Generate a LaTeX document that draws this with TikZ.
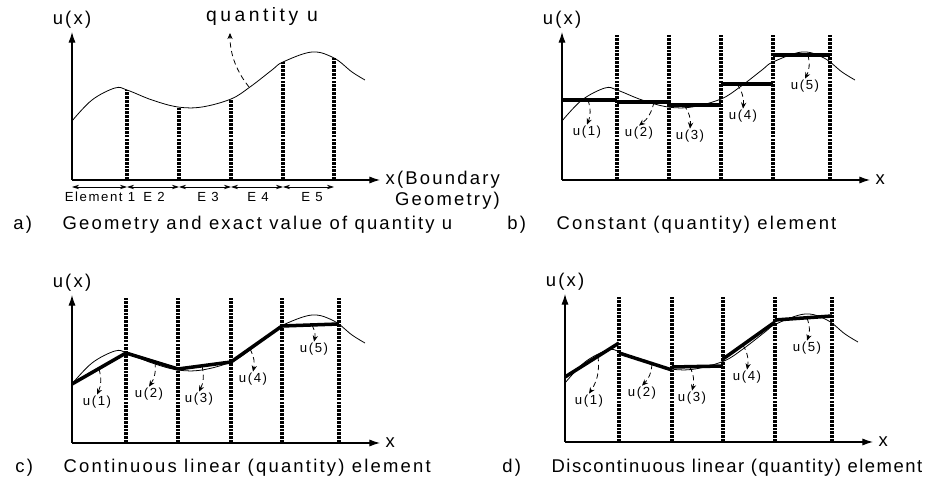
\documentclass[tikz,border=0pt]{standalone}
\usepackage{fontspec}
\setmainfont{Liberation Sans}
\newfontfamily\spaced[LetterSpace=12]{Liberation Sans}
\newfontfamily\tightspaced[LetterSpace=8]{Liberation Sans}
\newfontfamily\widespaced[LetterSpace=18]{Liberation Sans}
\usetikzlibrary{arrows.meta,positioning}

\begin{document}
\begin{tikzpicture}[x=0.02cm, y=0.02cm,
  axis/.style={line width=0.6pt, -{Latex[length=6pt,width=4pt]}},
  bound/.style={line width=2pt, dash pattern=on 1.6pt off 0.6pt},
  exact/.style={line width=0.45pt},
  approx/.style={line width=2pt, line join=round},
  span/.style={line width=0.4pt, {Stealth[length=4pt,width=2.5pt]}-{Stealth[length=4pt,width=2.5pt]}},
  tagarr/.style={densely dashed, line width=0.45pt, -{Stealth[length=3.5pt,width=3pt]}},
  lab/.style={font=\spaced\fontsize{10.5}{11.5}\selectfont, inner sep=1pt},
  tag/.style={font=\spaced\fontsize{7.5}{8}\selectfont, inner sep=0.5pt},
  elab/.style={font=\spaced\fontsize{7.5}{8}\selectfont, inner sep=1pt},
  capt/.style={font=\spaced\fontsize{10.5}{12}\selectfont, inner sep=0pt, anchor=west},
  exactu/.pic={\draw[exact] plot[smooth, tension=0.6] coordinates {(0,59) (20,80) (43,92) (55,90) (80,80) (106,73) (130,73) (159,81) (178,93) (200,110) (211,118) (240,128) (262,122) (280,108) (293,100)};}
]
  \useasboundingbox (0,0) rectangle (944,490);

  % a) geometry and exact value
  \begin{scope}[shift={(72,310)}]
    \coordinate (a-o) at (0,0);
    \coordinate (a-ytop) at (0,148);
    \coordinate (a-xend) at (308,0);
    \pic {exactu};
    \foreach \bx/\by in {55/90,107/73,159/81,211/118,262/122}
      \draw[bound] (\bx,0) -- (\bx,\by);
    \draw[axis] (a-o) -- (a-ytop);
    \draw[axis] (a-o) -- (a-xend);
    \node[lab, above=1pt of a-ytop] (a-ylab) {u(x)};
    \node[lab, align=right, anchor=north west] (a-xlab) at ([xshift=2pt,yshift=6pt]a-xend) {x(Boundary\\Geometry)};
    \foreach \xa/\xb/\lx/\txt [count=\i] in {0/55/28/{Element 1},55/107/82/{E 2},107/159/136/{E 3},159/211/186/{E 4},211/262/240/{E 5}}{
      \draw[span] (\xa,-7) -- (\xb,-7);
      \node[elab] (a-e\i) at (\lx,-17) {\txt};
    }
    \node[font=\widespaced\fontsize{11}{12}\selectfont, inner sep=1pt] (a-qlab) at (190,163) {quantity u};
    \coordinate (a-qfoot) at (177,93);
    \coordinate (a-qtip) at (158,147);
    \draw[tagarr] (a-qfoot) .. controls (165,108) and (158,125) .. (a-qtip);
  \end{scope}
  \node[capt] (a-tag) at (13,265) {a)};
  \node[capt, right=0.6cm of a-tag] (a-cap) {Geometry and exact value of quantity u};

  % b) constant element
  \begin{scope}[shift={(562,310)}]
    \coordinate (b-o) at (0,0);
    \coordinate (b-ytop) at (0,148);
    \coordinate (b-xend) at (308,0);
    \pic {exactu};
    \foreach \bx in {55,107,159,211,268}
      \draw[bound] (\bx,0) -- (\bx,145);
    \draw[axis] (b-o) -- (b-ytop);
    \draw[axis] (b-o) -- (b-xend);
    \node[lab, above=1pt of b-ytop] (b-ylab) {u(x)};
    \node[lab, right=2pt of b-xend] (b-xlab) {x};
    \draw[approx] (0,80) -- (55,80);
    \draw[approx] (55,78) -- (107,78);
    \draw[approx] (107,75) -- (159,75);
    \draw[approx] (159,96) -- (211,96);
    \draw[approx] (211,125) -- (268,125);
    \foreach \fx/\fy/\lx/\ly [count=\i] in {26/80/25/48,92/78/77/47,122/75/128/44,175/96/181/64,246/125/243/94}{
      \coordinate (b-f\i) at (\fx,\fy);
      \node[tag] (b-u\i) at (\lx,\ly) {u(\i)};
      \draw[tagarr] (b-f\i) to[bend left=20] (b-u\i.north);
    }
  \end{scope}
  \node[capt] (b-tag) at (507,265) {b)};
  \node[capt, right=0.6cm of b-tag] (b-cap) {Constant (quantity) element};

  % c) continuous linear element
  \begin{scope}[shift={(72,47)}]
    \coordinate (c-o) at (0,0);
    \coordinate (c-ytop) at (0,148);
    \coordinate (c-xend) at (308,0);
    \pic {exactu};
    \foreach \bx in {54,106,159,210,267}
      \draw[bound] (\bx,0) -- (\bx,145);
    \draw[axis] (c-o) -- (c-ytop);
    \draw[axis] (c-o) -- (c-xend);
    \node[lab, above=1pt of c-ytop] (c-ylab) {u(x)};
    \node[lab, right=2pt of c-xend] (c-xlab) {x};
    \draw[approx] (0,59) -- (54,90) -- (106,74) -- (159,81) -- (210,117) -- (267,119);
    \foreach \fx/\fy/\lx/\ly [count=\i] in {27/74/25/41,83/81/77/49,130/77/127/44,178/94/181/64,240/118/242/94}{
      \coordinate (c-f\i) at (\fx,\fy);
      \node[tag] (c-u\i) at (\lx,\ly) {u(\i)};
      \draw[tagarr] (c-f\i) to[bend left=20] (c-u\i.north);
    }
  \end{scope}
  \node[capt] (c-tag) at (15,22) {c)};
  \node[capt, right=0.6cm of c-tag] (c-cap) {Continuous linear (quantity) element};

  % d) discontinuous linear element
  \begin{scope}[shift={(565,48)}]
    \coordinate (d-o) at (0,0);
    \coordinate (d-ytop) at (0,148);
    \coordinate (d-xend) at (308,0);
    \pic {exactu};
    \foreach \bx in {54,107,158,210,267}
      \draw[bound] (\bx,0) -- (\bx,145);
    \draw[axis] (d-o) -- (d-ytop);
    \draw[axis] (d-o) -- (d-xend);
    \node[lab, above=1pt of d-ytop] (d-ylab) {u(x)};
    \node[lab, right=2pt of d-xend] (d-xlab) {x};
    \draw[approx] (0,65) -- (54,99);
    \draw[approx] (54,89) -- (107,72);
    \draw[approx] (107,75) -- (158,76);
    \draw[approx] (158,83) -- (210,120);
    \draw[approx] (210,122) -- (267,126);
    \foreach \fx/\fy/\lx/\ly [count=\i] in {33/86/24/41,87/78/77/49,125/75/127/44,178/97/182/65,242/124/242/94}{
      \coordinate (d-f\i) at (\fx,\fy);
      \node[tag] (d-u\i) at (\lx,\ly) {u(\i)};
      \draw[tagarr] (d-f\i) to[bend left=20] (d-u\i.north);
    }
  \end{scope}
  \node[capt] (d-tag) at (502,22) {d)};
  \node[capt, font=\tightspaced\fontsize{10.5}{12}\selectfont, right=0.6cm of d-tag] (d-cap) {Discontinuous linear (quantity) element};
\end{tikzpicture}
\end{document}
